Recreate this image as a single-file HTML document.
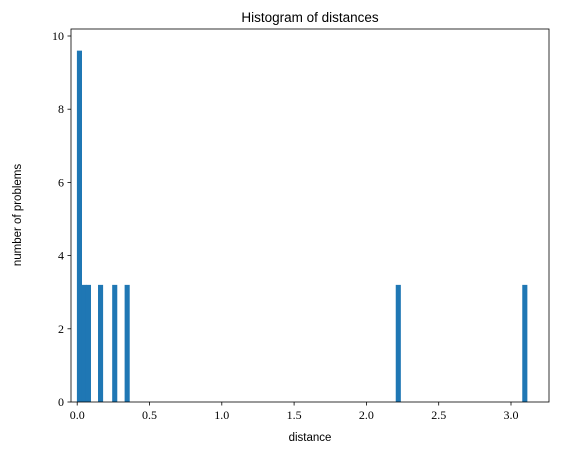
<!DOCTYPE html>
<html><head><meta charset="utf-8"><style>
body{margin:0;background:#fff;}
svg text{font-family:"Liberation Serif",serif;fill:#000;}
.lab{font-family:"Liberation Sans",sans-serif;}
</style></head><body>
<svg id="c" width="562" height="455" xmlns="http://www.w3.org/2000/svg"></svg>
<script>
const binStarts=[0,0.0311,0.0622,0.146,0.244,0.33,2.205,3.08];
const counts=[9.6,3.2,3.2,3.2,3.2,3.2,3.2,3.2];
const binWidth=0.0311;
const xTicks=[0,0.5,1.0,1.5,2.0,2.5,3.0];
const xTickLabels=["0.0","0.5","1.0","1.5","2.0","2.5","3.0"];
const yTicks=[0,2,4,6,8,10];
const L=71,R=549,T=29,B=402;
const sx=v=>77.2+v*144.6;
const sy=v=>402-v*36.6;
const svg=document.getElementById('c');
const NS='http://www.w3.org/2000/svg';
function mk(tag,attrs,parent){const e=document.createElementNS(NS,tag);for(const k in attrs)e.setAttribute(k,attrs[k]);(parent||svg).appendChild(e);return e;}
const bars=mk('g',{});


binStarts.forEach((s,i)=>{
  const r=mk('rect',{x:sx(s)-0.3,y:sy(counts[i]),width:sx(s+binWidth)-sx(s)+0.6,height:sy(0)-sy(counts[i]),fill:'#1f77b4'},bars);
  
  
});
const frame=mk('rect',{x:L,y:T,width:R-L,height:B-T,fill:'none',stroke:'#000','stroke-width':0.8});


xTicks.forEach((v,i)=>{
  mk('line',{x1:sx(v),x2:sx(v),y1:B,y2:B+3.5,stroke:'#000','stroke-width':0.8});
  const t=mk('text',{x:sx(v),y:B+17,'text-anchor':'middle','font-size':12});
  t.textContent=xTickLabels[i];
  
  
});
yTicks.forEach(v=>{
  mk('line',{x1:L-3.5,x2:L,y1:sy(v),y2:sy(v),stroke:'#000','stroke-width':0.8});
  const t=mk('text',{x:L-7,y:sy(v)+4,'text-anchor':'end','font-size':12});
  t.textContent=v;
  
  
});
const xt=mk('text',{x:310,y:441,'text-anchor':'middle','font-size':11.5,class:'lab'});
xt.textContent='distance';


const yt=mk('text',{x:0,y:0,'text-anchor':'middle','font-size':11.5,class:'lab',transform:'translate(21,215) rotate(-90)'});
yt.textContent='number of problems';


const tt=mk('text',{x:310,y:22,'text-anchor':'middle','font-size':13.5,class:'lab'});
tt.textContent='Histogram of distances';


</script>
</body></html>
